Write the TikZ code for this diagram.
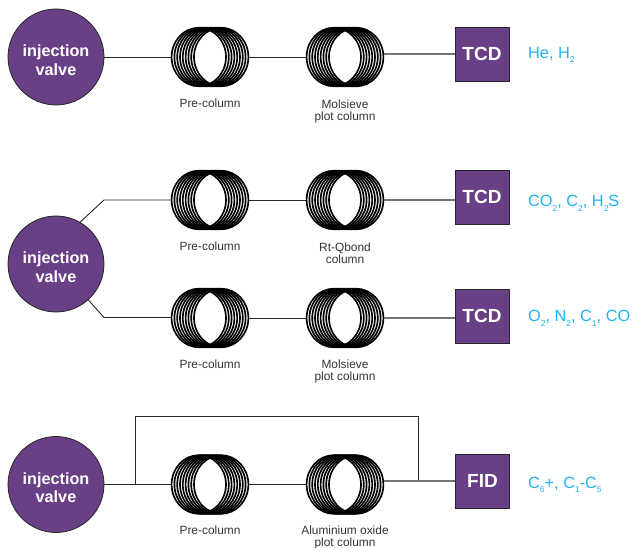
\documentclass[tikz,border=0pt]{standalone}
\usepackage{fontspec}
\setmainfont{Liberation Sans}
\definecolor{vpurple}{HTML}{693F85}
\definecolor{lblue}{HTML}{1CB4F4}
\definecolor{lcap}{HTML}{333333}
\tikzset{
  valve/.style={circle,draw=black!85,line width=0.8pt,fill=vpurple,minimum size=96pt,inner sep=0pt,text=white,align=center,font=\fontsize{16.2}{18.5}\selectfont\bfseries},
  det/.style={rectangle,draw=black!85,line width=0.8pt,fill=vpurple,minimum width=54pt,minimum height=54pt,inner sep=0pt,text=white,font=\fontsize{19}{22}\selectfont\bfseries},
  coilbox/.style={rectangle,minimum width=78pt,minimum height=60pt,inner sep=0pt},
  coilcap/.style={align=center,text=lcap,font=\fontsize{11.9}{12}\selectfont,anchor=north},
  res/.style={text=lblue,anchor=west,inner sep=0pt,font=\fontsize{16.3}{18}\selectfont},
  conn/.style={draw=black!85,line width=0.9pt},
  connb/.style={draw=black!55,line width=1.3pt},
  ring/.style={draw=black,line width=1.65pt}
}
\newcommand{\coilat}[3]{%
  \node[coilbox] (#1) at (#2,#3) {};
  \foreach \d in {-11.2,-8.4,-5.6,-2.8,0,2.8,5.6,8.4,11.2}{
    \draw[ring] (#2+\d,#3) ellipse [x radius=27.2,y radius=29.3];
  }}
\newcommand{\subs}[1]{\raisebox{-0.28em}{\fontsize{8.5}{8.5}\selectfont #1}}
\newcommand{\valvetext}{\rule{0pt}{17.8pt}injection\\valve}
\begin{document}
\begin{tikzpicture}[x=1pt,y=-1pt]
\useasboundingbox (0,0) rectangle (633,548);
% row 1
\node[valve] (v1) at (56,57) {\valvetext};
\coilat{c1a}{210}{57}
\coilat{c1b}{345}{57}
\node[det] (d1) at (482,54) {TCD};
\node[coilcap] (t1a) at (210,95) {Pre-column};
\node[coilcap] (t1b) at (345,96) {Molsieve\\plot column};
\node[res] (r1) at (528,55) {He, H\subs{2}};
\draw[conn] (v1.east) -- (v1.east -| c1a.west);
\draw[conn] (c1a.east) -- (c1b.west);
\draw[connb] (d1.west) -- (d1.west -| c1b.east);
% row 2/3
\node[valve] (v2) at (56,264) {\valvetext};
\coilat{c2a}{210}{200}
\coilat{c2b}{345}{200}
\node[det] (d2) at (482,197) {TCD};
\node[coilcap] (t2a) at (210,238) {Pre-column};
\node[coilcap] (t2b) at (345,239) {Rt-Qbond\\column};
\node[res] (r2) at (528,203.5) {CO\subs{2}, C\subs{2}, H\subs{2}S};
\coilat{c3a}{210}{318}
\coilat{c3b}{345}{318}
\node[det] (d3) at (482,316) {TCD};
\node[coilcap] (t3a) at (210,356) {Pre-column};
\node[coilcap] (t3b) at (345,356) {Molsieve\\plot column};
\node[res] (r3) at (528,318.5) {O\subs{2}, N\subs{2}, C\subs{1}, CO};
\coordinate (k2) at (104,200);
\coordinate (k3) at (104,317.5);
\draw[conn] (v2.60) -- (k2) -- (k2 -| c2a.west);
\draw[conn] (v2.-48) -- (k3) -- (k3 -| c3a.west);
\draw[conn] (c2a.east) -- (c2b.west);
\draw[connb] (c2b.east) -- (c2b.east -| d2.west);
\draw[conn] (c3a.east) -- (c3b.west);
\draw[connb] (c3b.east) -- (c3b.east -| d3.west);
% row 4
\node[valve] (v3) at (56,484.5) {\valvetext};
\coilat{c4a}{210}{484.5}
\coilat{c4b}{345}{484.5}
\node[det] (d4) at (482.5,481) {FID};
\node[coilcap] (t4a) at (210,522) {Pre-column};
\node[coilcap] (t4b) at (345,522) {Aluminium oxide\\plot column};
\node[res] (r4) at (528,485) {C\subs{6}+, C\subs{1}-C\subs{5}};
\coordinate (b1) at (135,484.5);
\coordinate (b2) at (135,416);
\coordinate (b3) at (418,416);
\coordinate (b4) at (418,481.5);
\draw[conn] (v3.east) -- (c4a.west);
\draw[conn] (b1) -- (b2) -- (b3) -- (b4);
\draw[conn] (c4a.east) -- (c4b.west);
\draw[connb] (d4.west) -- (d4.west -| c4b.east);
\end{tikzpicture}
\end{document}
